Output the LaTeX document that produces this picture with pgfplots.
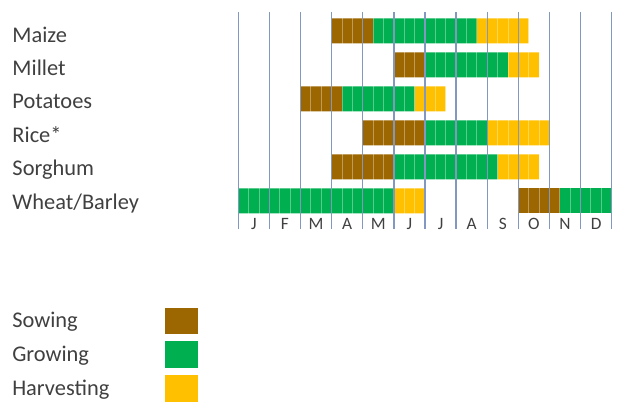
\documentclass[border=0pt]{standalone}
\usepackage{pgfplots}
\pgfplotsset{compat=1.18}
\usepackage{pgfplotstable}
\usepackage{fontspec}
\setmainfont{Carlito}
\definecolor{sowc}{RGB}{156,102,0}
\definecolor{growc}{RGB}{0,176,80}
\definecolor{harvc}{RGB}{255,192,0}
\definecolor{gridc}{RGB}{130,152,192}
\definecolor{txt}{RGB}{64,64,64}

% crop calendar in dekads (36 per year), y = row position
\pgfplotstableread{
y      gapA sow grow harv gapB sowB growB
-30.8  9    4   10   5    0    0    0
-64.8  15   3   8    3    0    0    0
-98.8  6    4   7    3    0    0    0
-132.8 12   6   6    6    0    0    0
-166.8 9    6   10   4    0    0    0
-200.8 0    0   15   3    9    4    5
}\crops

\begin{document}
\begin{tikzpicture}
\useasboundingbox (0,0) rectangle (465pt,302.25pt);
\begin{axis}[
  at={(178.725pt,130.5pt)}, anchor=south west,
  scale only axis, width=280.05pt, height=162.75pt,
  xmin=0, xmax=36, ymin=-229, ymax=-12,
  xbar stacked, bar width=25,
  axis on top,
  axis line style={draw=none},
  tick style={draw=none},
  xtick={1.5,4.5,...,34.5},
  xticklabels={J,F,M,A,M,J,J,A,S,O,N,D},
  xticklabel style={font=\fontsize{13}{14}\selectfont, text=txt, anchor=base, yshift=-0.75pt},
  extra x ticks={0,3,...,36},
  extra x tick labels={},
  extra x tick style={grid=major, major grid style={gridc, line width=1pt}},
  minor xtick={1,2,4,5,7,8,10,11,13,14,16,17,19,20,22,23,25,26,28,29,31,32,34,35},
  xminorgrids, minor grid style={white, opacity=0.35, line width=0.7pt},
  ytick={-43,-76,-109,-142.5,-176,-210},
  yticklabels={Maize,Millet,Potatoes,Rice*,Sorghum,Wheat/Barley},
  yticklabel style={font=\fontsize{16.8}{18}\selectfont, text=txt, anchor=base west, xshift=-172.9pt},
  legend plot pos=right,
  legend style={at={(-0.6125,-0.362)}, anchor=north west, draw=none, fill=none,
    inner sep=0pt, outer sep=0pt, row sep=5.9pt,
    font=\fontsize{16.8}{18}\selectfont, text=txt, cells={anchor=west},
    /tikz/column 1/.style={column sep=40pt}},
]
\addplot[draw=none, fill=none, forget plot] table[x=gapA, y=y] {\crops};
\addplot[draw=none, fill=sowc, forget plot] table[x=sow, y=y] {\crops};
\addplot[draw=none, fill=growc, forget plot] table[x=grow, y=y] {\crops};
\addplot[draw=none, fill=harvc, forget plot] table[x=harv, y=y] {\crops};
\addplot[draw=none, fill=none, forget plot] table[x=gapB, y=y] {\crops};
\addplot[draw=none, fill=sowc, forget plot] table[x=sowB, y=y] {\crops};
\addplot[draw=none, fill=growc, forget plot] table[x=growB, y=y] {\crops};
\addlegendimage{legend image code/.code={\fill[sowc] (0pt,-9.1pt) rectangle (24pt,10pt);}}
\addlegendimage{legend image code/.code={\fill[growc] (0pt,-9.1pt) rectangle (24pt,10pt);}}
\addlegendimage{legend image code/.code={\fill[harvc] (0pt,-9.1pt) rectangle (24pt,10pt);}}
\legend{Sowing,Growing,Harvesting}
\end{axis}
\end{tikzpicture}
\end{document}
